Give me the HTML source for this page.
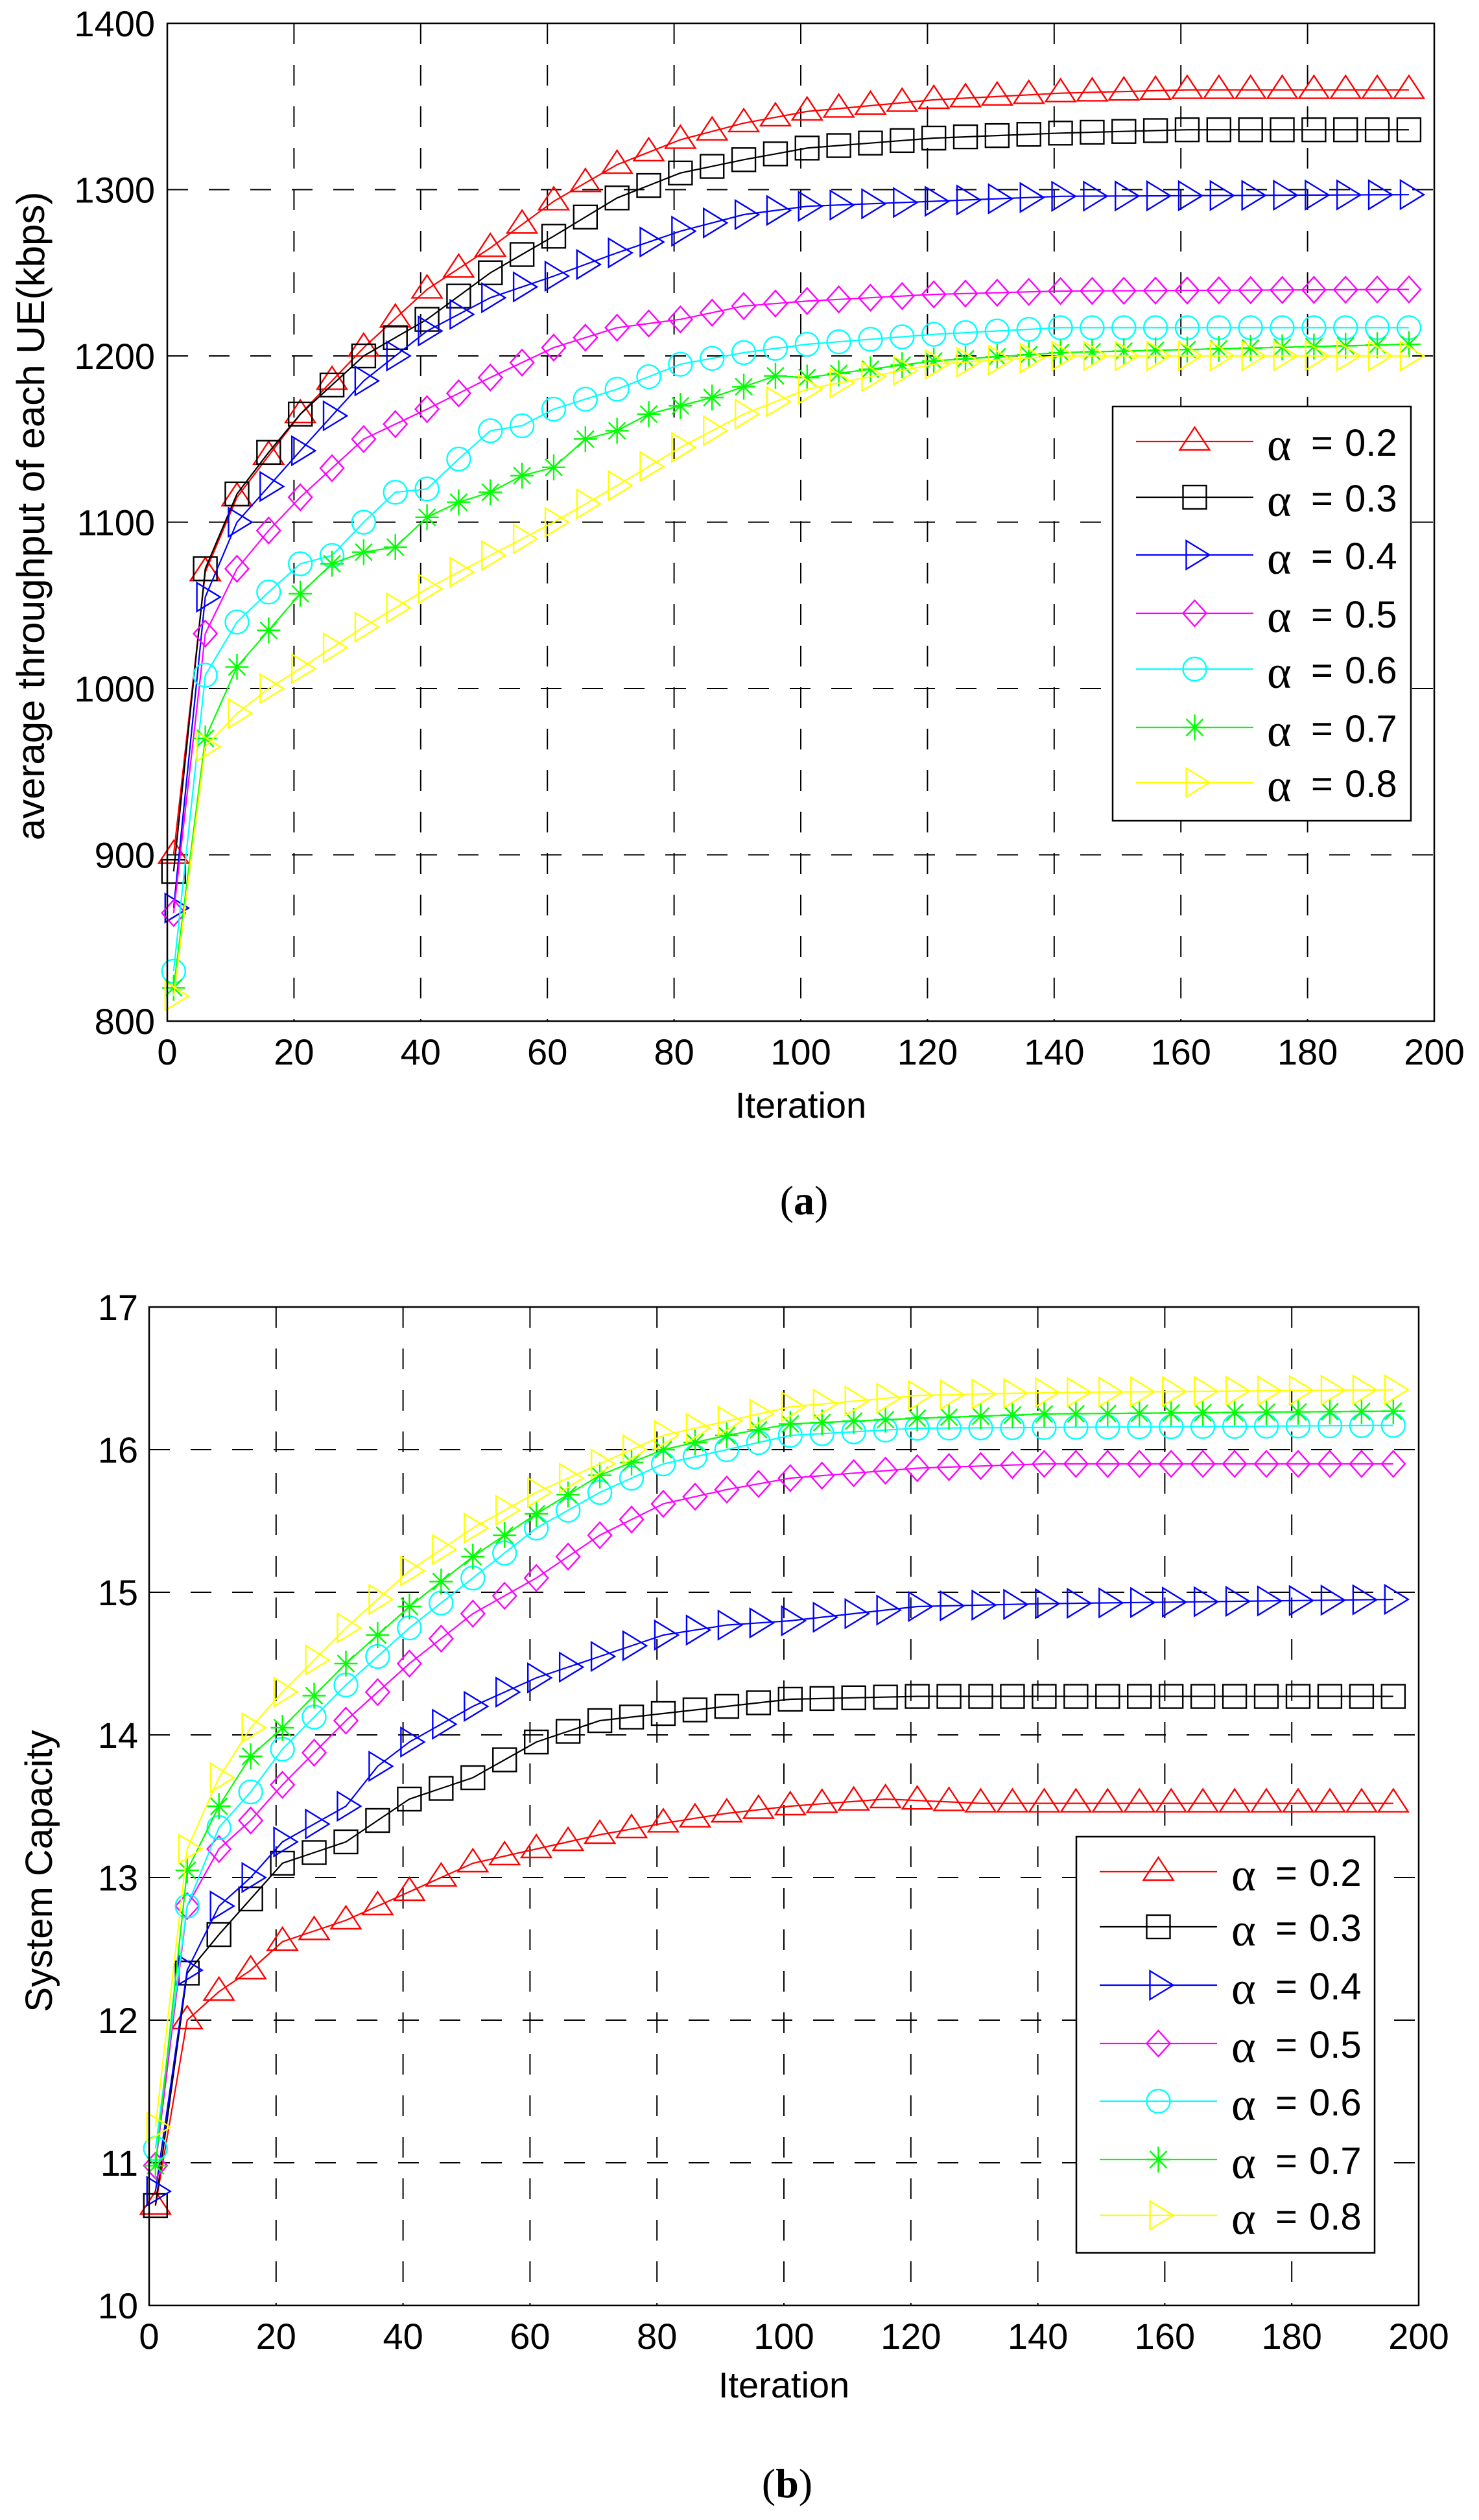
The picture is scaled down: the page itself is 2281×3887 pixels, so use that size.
<!DOCTYPE html>
<html><head><meta charset="utf-8"><style>
html,body{margin:0;padding:0;background:#fff;}
svg{display:block;}
text{font-family:"Liberation Sans",Arial,sans-serif;fill:#000;}
</style></head><body>
<svg id="s" width="2281" height="3887" viewBox="0 0 2281 3887" xmlns="http://www.w3.org/2000/svg">
<rect width="2281" height="3887" fill="#fff"/>
<g id="g"></g>
</svg>
<script>
const NS="http://www.w3.org/2000/svg";
const g=document.getElementById('g');
function el(n,a,t){const e=document.createElementNS(NS,n);for(const k in a)e.setAttribute(k,a[k]);if(t!==undefined)e.textContent=t;g.appendChild(e);return e;}
function interp(pts,t){for(let i=0;i<pts.length-1;i++){if(t>=pts[i][0]&&t<=pts[i+1][0]){const f=(t-pts[i][0])/(pts[i+1][0]-pts[i][0]);return pts[i][1]+f*(pts[i+1][1]-pts[i][1]);}}return pts[pts.length-1][1];}
function marker(type,x,y,c){
  const st={fill:'none',stroke:c,'stroke-width':2.4};
  if(type=='tu'){el('polygon',Object.assign({points:`${x},${y-22} ${x-23},${y+13} ${x+23},${y+13}`},st));}
  else if(type=='sq'){el('rect',Object.assign({x:x-18,y:y-18,width:36,height:36},st));}
  else if(type=='tr'){el('polygon',Object.assign({points:`${x-13},${y-22} ${x-13},${y+22} ${x+23},${y}`},st));}
  else if(type=='di'){el('polygon',Object.assign({points:`${x},${y-20} ${x+18},${y} ${x},${y+20} ${x-18},${y}`},st));}
  else if(type=='ci'){el('ellipse',Object.assign({cx:x,cy:y,rx:18,ry:18},st));}
  else if(type=='st'){el('path',Object.assign({d:`M${x-18},${y}H${x+18}M${x},${y-20}V${y+20}M${x-13},${y-13}L${x+13},${y+13}M${x-13},${y+13}L${x+13},${y-13}`},st));}
}
const cols=['#ff0000','#000000','#0000ff','#ff00ff','#00ffff','#00ff00','#ffff00'];
const mk=['tu','sq','tr','di','ci','st','tr'];
function panel(P){
  const {x0,x1,y0,y1,vmin,vmax,vstep,X,Y}=P;
  for(let t=20;t<200;t+=20){el('line',{x1:X(t),y1:y0,x2:X(t),y2:y1,stroke:'#000','stroke-width':2,'stroke-dasharray':'32,32'});}
  for(let v=vmin+vstep;v<vmax-1e-9;v+=vstep){el('line',{x1:x0,y1:Y(v),x2:x1,y2:Y(v),stroke:'#000','stroke-width':2,'stroke-dasharray':'32,32'});}
  P.data.forEach((pts,i)=>{
    let d='';
    for(let t=1;t<=196;t+=5){const x=X(t),y=Y(interp(pts,t));d+=(d?'L':'M')+x.toFixed(1)+','+y.toFixed(1);}
    el('path',{d:d,fill:'none',stroke:cols[i],'stroke-width':2.2});
    for(let t=1;t<=196;t+=5){marker(mk[i],X(t),Y(interp(pts,t)),cols[i]);}
  });
  el('rect',{x:x0,y:y0,width:x1-x0,height:y1-y0,fill:'none',stroke:'#000','stroke-width':2.5});
  for(let t=0;t<=200;t+=20){el('text',{x:X(t),y:P.xly,'font-size':56,'text-anchor':'middle'},String(t));}
  for(let v=vmin;v<=vmax+1e-9;v+=vstep){el('text',{x:P.ylx,y:Y(v)+20,'font-size':56,'text-anchor':'end'},String(Math.round(v)));}
  el('text',{x:(x0+x1)/2,y:P.itY,'font-size':56,'text-anchor':'middle'},'Iteration');
  el('text',{x:P.ylabX,y:P.ylabY,'font-size':P.ylabF,'text-anchor':'middle',transform:`rotate(-90 ${P.ylabX} ${P.ylabY})`},P.ylab);
  const c=el('text',{x:(x0+x1)/2+5,y:P.capY,'font-size':64,'text-anchor':'middle','style':'font-family:"Liberation Serif",serif'});
  c.innerHTML='(<tspan font-weight="bold">'+P.cap+'</tspan>)';
  const L=P.leg;
  el('rect',{x:L.l,y:L.t,width:L.r-L.l,height:L.b-L.t,fill:'#fff',stroke:'#000','stroke-width':2.5});
  L.rows.forEach((ry,i)=>{
    el('line',{x1:L.lx1,y1:ry,x2:L.lx2,y2:ry,stroke:cols[i],'stroke-width':2.2});
    marker(mk[i],(L.lx1+L.lx2)/2,ry,cols[i]);
    el('text',{x:L.ax-2,y:ry+29,'font-size':72,style:'font-family:"Liberation Serif",serif'},'α');
    el('text',{x:L.ax+66,y:ry+22,'font-size':58},'=');
    el('text',{x:L.ax+118,y:ry+22,'font-size':58},'0.'+(i+2));
  });
}
const A={x0:258,x1:2212,y0:36,y1:1575,vmin:800,vmax:1400,vstep:100,
 X:t=>258+t*(2212-258)/200,Y:v=>1575-(v-800)*(1575-36)/600,
 xly:1642,ylx:239,itY:1724,ylabX:68,ylabY:796,ylabF:60,ylab:'average throughput of each UE(kbps)',capY:1873,cap:'a',
 leg:{l:1716,r:2176,t:627,b:1266,lx1:1752,lx2:1933,ax:1956,rows:[681,767,856,946,1032,1122,1207]},
 data:[
 [[1,900],[6,1070],[11,1115],[21,1165],[31,1205],[41,1240],[51,1265],[61,1293],[71,1315],[81,1330],[91,1340],[101,1347],[121,1354],[141,1358],[161,1360],[196,1360]],
 [[1,890],[6,1072],[11,1117],[16,1142],[21,1165],[31,1200],[41,1222],[51,1250],[61,1272],[71,1295],[81,1310],[91,1318],[101,1325],[121,1331],[141,1334],[161,1336],[196,1336]],
 [[1,868],[6,1055],[11,1100],[21,1143],[31,1185],[41,1215],[51,1235],[61,1248],[71,1262],[81,1275],[91,1285],[101,1290],[121,1293],[141,1296],[196,1297]],
 [[1,865],[6,1033],[11,1072],[16,1095],[21,1115],[31,1150],[41,1168],[51,1187],[61,1205],[71,1217],[81,1222],[91,1230],[101,1233],[121,1237],[141,1239],[196,1240]],
 [[1,830],[6,1008],[11,1040],[16,1058],[21,1075],[26,1080],[31,1100],[36,1118],[41,1120],[46,1138],[51,1155],[56,1158],[61,1168],[71,1180],[81,1195],[91,1202],[101,1207],[121,1213],[141,1217],[196,1217]],
 [[1,820],[6,970],[11,1013],[16,1035],[21,1057],[26,1075],[31,1082],[36,1085],[41,1103],[46,1112],[51,1118],[56,1128],[61,1133],[66,1150],[71,1155],[76,1165],[86,1175],[96,1188],[101,1187],[121,1197],[141,1202],[196,1207]],
 [[1,815],[6,965],[11,985],[16,1000],[21,1012],[31,1037],[41,1060],[51,1080],[61,1100],[71,1122],[81,1145],[91,1165],[101,1180],[121,1195],[141,1200],[196,1200]]
 ]};
const B={x0:230,x1:2188,y0:2016,y1:3556,vmin:10,vmax:17,vstep:1,
 X:t=>230+t*(2188-230)/200,Y:v=>3556-(v-10)*220,
 xly:3623,ylx:213,itY:3698,ylabX:80,ylabY:2886,ylabF:58,ylab:'System Capacity',capY:3852,cap:'b',
 leg:{l:1660,r:2120,t:2833,b:3475,lx1:1696,lx2:1877,ax:1901,rows:[2887,2972,3062,3152,3241,3331,3417]},
 data:[
 [[1,10.7],[6,12.0],[11,12.2],[16,12.35],[21,12.55],[31,12.7],[41,12.9],[51,13.1],[61,13.2],[71,13.3],[81,13.38],[91,13.45],[101,13.5],[116,13.55],[131,13.52],[196,13.52]],
 [[1,10.7],[6,12.33],[11,12.6],[16,12.85],[21,13.1],[31,13.25],[41,13.55],[51,13.7],[61,13.95],[71,14.1],[81,14.15],[91,14.2],[101,14.25],[121,14.27],[196,14.27]],
 [[1,10.8],[6,12.35],[11,12.8],[16,13.0],[21,13.25],[31,13.5],[36,13.78],[41,13.95],[51,14.2],[61,14.4],[71,14.55],[81,14.7],[91,14.77],[101,14.8],[121,14.9],[141,14.92],[196,14.95]],
 [[1,10.98],[6,12.8],[11,13.2],[16,13.4],[21,13.65],[31,14.1],[41,14.5],[51,14.85],[61,15.1],[71,15.4],[81,15.62],[91,15.72],[101,15.8],[121,15.87],[141,15.9],[196,15.9]],
 [[1,11.1],[6,12.8],[11,13.35],[16,13.6],[21,13.9],[31,14.35],[41,14.75],[51,15.1],[61,15.45],[71,15.7],[81,15.9],[91,16.0],[101,16.1],[121,16.15],[196,16.17]],
 [[1,10.98],[6,13.05],[11,13.5],[16,13.85],[21,14.05],[31,14.5],[41,14.9],[51,15.25],[61,15.55],[71,15.82],[81,16.0],[91,16.1],[101,16.18],[121,16.22],[141,16.25],[196,16.27]],
 [[1,11.25],[6,13.2],[11,13.7],[16,14.05],[21,14.3],[31,14.75],[41,15.15],[51,15.45],[61,15.7],[71,15.9],[81,16.1],[91,16.2],[101,16.3],[121,16.38],[141,16.4],[196,16.42]]
 ]};
panel(A);panel(B);
</script>
</body></html>
